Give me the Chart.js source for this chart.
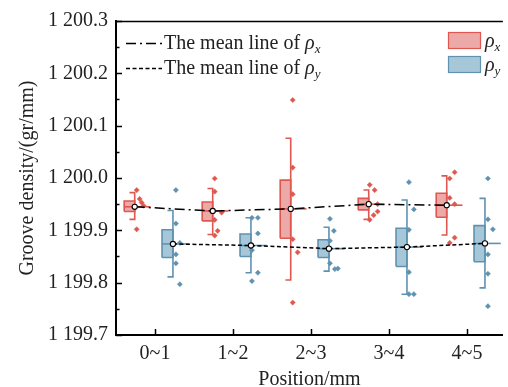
<!DOCTYPE html>
<html>
<head>
<meta charset="utf-8">
<script src="https://cdn.jsdelivr.net/npm/chart.js@4/dist/chart.umd.min.js"></script>
<style>
html,body{margin:0;padding:0;background:#fff;}
#wrap{position:relative;width:508px;height:387px;}
canvas{display:block;}
</style>
</head>
<body>
<div id="wrap"><canvas id="c" width="508" height="387"></canvas></div>
<script>
// ---------------- data ----------------
const categories = ['0~1', '1~2', '2~3', '3~4', '4~5'];
const yTickValues = [1199.7, 1199.8, 1199.9, 1200.0, 1200.1, 1200.2, 1200.3];

const rhoXLow  = [1199.921, 1199.892, 1199.805, 1199.921, 1199.891];
const rhoXQ1   = [1199.936, 1199.918, 1199.885, 1199.939, 1199.925];
const rhoXMean = [1199.945, 1199.937, 1199.941, 1199.950, 1199.948];
const rhoXQ3   = [1199.956, 1199.954, 1199.996, 1199.961, 1199.971];
const rhoXHigh = [1199.972, 1199.980, 1200.076, 1199.977, 1200.004];
const rhoXPoints = [
  [1199.977, 1199.960, 1199.953, 1199.947, 1199.902],
  [1199.999, 1199.974, 1199.934, 1199.920, 1199.899, 1199.890],
  [1200.149, 1200.020, 1199.969, 1199.883, 1199.858, 1199.762],
  [1199.987, 1199.977, 1199.950, 1199.936, 1199.929, 1199.920],
  [1200.011, 1199.999, 1199.962, 1199.950, 1199.886, 1199.876]
];

const rhoYLow  = [1199.811, 1199.819, 1199.822, 1199.778, 1199.790];
const rhoYQ1   = [1199.848, 1199.850, 1199.848, 1199.831, 1199.840];
const rhoYMean = [1199.874, 1199.871, 1199.865, 1199.868, 1199.875];
const rhoYQ3   = [1199.901, 1199.893, 1199.882, 1199.904, 1199.909];
const rhoYHigh = [1199.938, 1199.924, 1199.906, 1199.958, 1199.961];
const rhoYPoints = [
  [1199.977, 1199.913, 1199.876, 1199.854, 1199.837, 1199.797],
  [1199.924, 1199.924, 1199.894, 1199.862, 1199.819, 1199.803],
  [1199.922, 1199.899, 1199.880, 1199.837, 1199.826, 1199.827],
  [1199.992, 1199.940, 1199.901, 1199.820, 1199.778, 1199.778],
  [1199.999, 1199.921, 1199.902, 1199.854, 1199.817, 1199.755]
];

// ---------------- layout / style (not data) ----------------
const PX = 1 / 79;                // one pixel in category units
const jitterX = [                 // horizontal spread of raw points to the right of the whisker
  [2, 5, 7, 9, 2], [2, 2, 9, 2, 5, 2], [2, 2, 2, 2, 7, 2], [1, 6, 9, 9, 5, 1], [8, 3, 3, 8, 8, 3]
];
const jitterY = [
  [3, 3, 7, 3, 3, 7], [1, 7, 7, 1, 7, 1], [1, 5, 1, 1, 6, 9], [2, 7, 2, 2, 2, 7], [3, 3, 8, 3, 3, 3]
];
const RED = 'rgb(223,88,80)', RED_FILL = 'rgba(224,112,108,0.6)';
const BLUE = 'rgb(96,146,176)', BLUE_FILL = 'rgba(112,164,192,0.62)';
const FONT = '"Liberation Serif", "Times New Roman", serif';

function seriesSets(low, q1, mean, q3, high, pts, jit, offL, offR, stroke, fill) {
  const sets = [];
  categories.forEach((c, i) => {
    const cx = i + 1, xl = cx + offL, xr = cx + offR, xc = (xl + xr) / 2;
    sets.push({ type: 'line', data: [{x: xl, y: q3[i]}, {x: xr, y: q3[i]}],
      fill: {value: q1[i]}, backgroundColor: fill, borderWidth: 0, pointRadius: 0, order: 10 });
    sets.push({ type: 'line', data: [{x: xl, y: q1[i]}, {x: xl, y: q3[i]}, {x: xr, y: q3[i]}, {x: xr, y: q1[i]}, {x: xl, y: q1[i]}],
      borderColor: stroke, borderWidth: 1.6, pointRadius: 0, fill: false, order: 9 });
    sets.push({ type: 'line', data: [{x: xl, y: mean[i]}, {x: xr + 16 * PX, y: mean[i]}],
      borderColor: stroke, borderWidth: 1.6, pointRadius: 0, fill: false, order: 8 });
    sets.push({ type: 'line', data: [{x: xc, y: high[i]}, {x: xr, y: high[i]}, {x: xr, y: low[i]}, {x: xc, y: low[i]}],
      borderColor: stroke, borderWidth: 1.6, pointRadius: 0, fill: false, order: 8 });
    sets.push({ type: 'scatter', data: pts[i].map((v, k) => ({x: xr + jit[i][k] * PX, y: v})),
      pointStyle: 'rectRot', pointRadius: 2.6, pointBackgroundColor: stroke, pointBorderColor: stroke,
      pointBorderWidth: 0.5, order: 7 });
  });
  sets.push({ type: 'line', data: mean.map((v, i) => ({x: i + 1 + offR, y: v})),
    borderColor: '#000', borderWidth: 1.5, pointRadius: 0, fill: false, order: 3,
    borderDash: stroke === RED ? [10, 4, 2, 4] : [4, 2.5] });
  sets.push({ type: 'scatter', data: mean.map((v, i) => ({x: i + 1 + offR, y: v})),
    pointStyle: 'circle', pointRadius: 2.6, pointBackgroundColor: '#fff', pointBorderColor: '#000',
    pointBorderWidth: 1.1, order: 1 });
  return sets;
}

const datasets = [
  ...seriesSets(rhoXLow, rhoXQ1, rhoXMean, rhoXQ3, rhoXHigh, rhoXPoints, jitterX, -0.395, -0.26, RED, RED_FILL),
  ...seriesSets(rhoYLow, rhoYQ1, rhoYMean, rhoYQ3, rhoYHigh, rhoYPoints, jitterY, 0.09, 0.23, BLUE, BLUE_FILL)
];

const fmt = v => {
  const s = v.toFixed(1);
  const [ip, dp] = s.split('.');
  return ip.slice(0, ip.length - 3) + ' ' + ip.slice(-3) + '.' + dp;
};

const decor = {
  id: 'decor',
  afterDraw(chart) {
    const {ctx, chartArea: a, scales: {x, y}} = chart;
    ctx.save();
    ctx.strokeStyle = '#000';
    ctx.lineWidth = 1.5;
    // top frame
    ctx.beginPath(); ctx.moveTo(a.left, a.top + 0.5); ctx.lineTo(a.right, a.top + 0.5); ctx.stroke();
    // y ticks (inward, major + minor)
    for (let k = 0; k <= 12; k++) {
      const v = yTickValues[0] + k * 0.05;
      const py = Math.round(y.getPixelForValue(v)) + 0.5;
      const len = k % 2 === 0 ? 6 : 3.5;
      ctx.beginPath(); ctx.moveTo(a.left, py); ctx.lineTo(a.left + len, py); ctx.stroke();
    }
    // x ticks
    categories.forEach((c, i) => {
      const px = Math.round(x.getPixelForValue(i + 1)) + 0.5;
      ctx.beginPath(); ctx.moveTo(px, a.bottom); ctx.lineTo(px, a.bottom - 6); ctx.stroke();
    });
    // legend (left: mean lines)
    ctx.lineWidth = 1.5;
    ctx.setLineDash([10, 4, 2, 4]);
    ctx.beginPath(); ctx.moveTo(126, 43.5); ctx.lineTo(162, 43.5); ctx.stroke();
    ctx.setLineDash([4, 2.5]);
    ctx.beginPath(); ctx.moveTo(126, 68.5); ctx.lineTo(162, 68.5); ctx.stroke();
    ctx.setLineDash([]);
    ctx.fillStyle = '#222';
    ctx.textBaseline = 'alphabetic';
    const drawRho = (txt, sub, x0, base) => {
      let xx = x0;
      if (txt) { ctx.font = '20px ' + FONT; ctx.fillText(txt, xx, base); xx += ctx.measureText(txt).width; }
      ctx.font = 'italic 20px ' + FONT; ctx.fillText('\u03C1', xx, base); xx += ctx.measureText('\u03C1').width;
      ctx.font = 'italic 13px ' + FONT; ctx.fillText(sub, xx, base + 4);
    };
    drawRho('The mean line of ', 'x', 164, 49);
    drawRho('The mean line of ', 'y', 164, 74);
    // legend (right: boxes)
    ctx.lineWidth = 1.2;
    ctx.fillStyle = RED_FILL; ctx.strokeStyle = RED;
    ctx.fillRect(448, 32, 33, 17); ctx.strokeRect(448.5, 32.5, 32, 16);
    ctx.fillStyle = BLUE_FILL; ctx.strokeStyle = BLUE;
    ctx.fillRect(448, 56, 33, 17); ctx.strokeRect(448.5, 56.5, 32, 16);
    ctx.fillStyle = '#222';
    drawRho('', 'x', 485, 47);
    drawRho('', 'y', 485, 71);
    ctx.restore();
  }
};

new Chart(document.getElementById('c'), {
  type: 'scatter',
  data: { datasets },
  plugins: [decor],
  options: {
    responsive: false,
    animation: false,
    devicePixelRatio: 1,
    layout: { padding: { top: 21, right: 0, left: 0, bottom: 0 } },
    plugins: { legend: { display: false }, tooltip: { enabled: false } },
    elements: { line: { tension: 0 } },
    scales: {
      x: {
        type: 'linear', min: 0.5, max: 5.46,
        afterFit: s => { s.height = 52; },
        afterBuildTicks: s => { s.ticks = categories.map((c, i) => ({ value: i + 1 })); },
        grid: { display: false, drawTicks: false },
        border: { display: true, color: '#000', width: 2 },
        ticks: { padding: 7, color: '#222', font: { family: FONT, size: 20 },
          callback: v => categories[Math.round(v) - 1] },
        title: { display: true, text: 'Position/mm', color: '#222', font: { family: FONT, size: 20, lineHeight: 1 }, padding: { top: 0, bottom: -3 } }
      },
      y: {
        type: 'linear', min: yTickValues[0], max: yTickValues[yTickValues.length - 1],
        afterFit: s => { s.width = 116; },
        afterBuildTicks: s => { s.ticks = yTickValues.map(v => ({ value: v })); },
        grid: { display: false, drawTicks: false },
        border: { display: true, color: '#000', width: 2 },
        ticks: { padding: 8, color: '#222', font: { family: FONT, size: 20 }, callback: v => fmt(v) },
        title: { display: true, text: 'Groove density/(gr/mm)', color: '#222', font: { family: FONT, size: 20, lineHeight: 1 }, padding: { top: 18, bottom: 0 } }
      }
    }
  }
});
</script>
</body>
</html>
